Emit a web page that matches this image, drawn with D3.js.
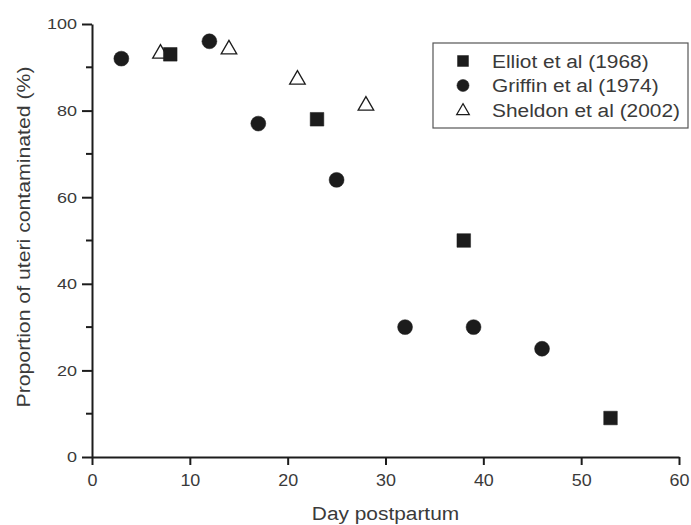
<!DOCTYPE html>
<html>
<head>
<meta charset="utf-8">
<script src="https://cdn.jsdelivr.net/npm/d3@7"></script>
<style>
  html, body { margin: 0; padding: 0; background: #fff; }
  svg { display: block; font-family: "Liberation Sans", Arial, sans-serif; }
</style>
</head>
<body>
<svg id="chart" width="691" height="525"></svg>
<script>
// Uterine contamination after calving, by study
const elliotDays = [8, 23, 38, 53];
const elliotPct  = [93, 78, 50, 9];
const griffinDays = [3, 12, 17, 25, 32, 39, 46];
const griffinPct  = [92, 96, 77, 64, 30, 30, 25];
const sheldonDays = [7, 14, 21, 28];
const sheldonPct  = [93.5, 94.5, 87.5, 81.5];

const xTicks = [0, 10, 20, 30, 40, 50, 60];
const yTicks = [0, 20, 40, 60, 80, 100];
const yMinorTicks = [10, 30, 50, 70, 90];
const seriesNames = ["Elliot et al (1968)", "Griffin et al (1974)", "Sheldon et al (2002)"];

const svg = d3.select("#chart");
const ink = "#1c1c1c";
const textCol = "#3a3a3a";
const stretch = 1.16; // slightly widened lettering

const x = d3.scaleLinear().domain([0, 60]).range([92, 679]);
const y = d3.scaleLinear().domain([0, 100]).range([457, 24]);

// Axes
const xAxis = d3.axisBottom(x).tickValues(xTicks).tickSize(8).tickSizeOuter(0).tickPadding(7);
const yAxis = d3.axisLeft(y).tickValues(yTicks).tickSize(10).tickSizeOuter(0).tickPadding(5);

const gx = svg.append("g").attr("transform", `translate(0,${y(0)})`).call(xAxis);
const gy = svg.append("g").attr("transform", `translate(${x(0)},0)`).call(yAxis);

[gx, gy].forEach(g => {
  g.select(".domain").attr("stroke", ink).attr("stroke-width", 2);
  g.selectAll(".tick line").attr("stroke", ink).attr("stroke-width", 2);
  g.selectAll(".tick text").attr("fill", textCol).style("font-size", "16px");
});
gx.selectAll(".tick text").attr("dy", "0.9em").attr("transform", `scale(${stretch - 0.04},1)`);
gy.selectAll(".tick text").style("font-size", "15.5px")
  .attr("x", 0).attr("transform", `translate(-15,0) scale(${stretch},1)`);

// Minor ticks on the y axis
svg.append("g").selectAll("line").data(yMinorTicks).join("line")
  .attr("x1", x(0) - 6).attr("x2", x(0))
  .attr("y1", d => y(d)).attr("y2", d => y(d))
  .attr("stroke", ink).attr("stroke-width", 2);

// Axis titles
svg.append("text")
  .attr("transform", `translate(${(x(0) + x(60)) / 2},520) scale(${stretch},1)`)
  .attr("text-anchor", "middle").attr("fill", textCol)
  .style("font-size", "18px").text("Day postpartum");

svg.append("text")
  .attr("transform", `translate(30,237) rotate(-90) scale(${stretch + 0.02},1)`)
  .attr("text-anchor", "middle").attr("fill", textCol)
  .style("font-size", "18px").text("Proportion of uteri contaminated (%)");

// Marker shapes
const sym = {
  square: d3.symbol().type(d3.symbolSquare),
  circle: d3.symbol().type(d3.symbolCircle),
  triangle: d3.symbol().type(d3.symbolTriangle)
};

function drawSeries(days, pct, shape, size, filled) {
  svg.append("g").selectAll("path").data(days.map((d, i) => [d, pct[i]])).join("path")
    .attr("transform", d => `translate(${x(d[0])},${y(d[1]) + (shape === "triangle" ? 1.5 : 0)})`)
    .attr("d", sym[shape].size(size)())
    .attr("fill", filled ? ink : "#fff")
    .attr("stroke", ink)
    .attr("stroke-width", filled ? 0.5 : 1.3);
}

drawSeries(sheldonDays, sheldonPct, "triangle", 105, false);
drawSeries(elliotDays, elliotPct, "square", 185, true);
drawSeries(griffinDays, griffinPct, "circle", 175, true);

// Legend
const lg = svg.append("g");
lg.append("rect").attr("x", 433).attr("y", 43).attr("width", 255).attr("height", 85)
  .attr("fill", "#fff").attr("stroke", "#555").attr("stroke-width", 1.2);

const legendShapes = [["square", 120, true], ["circle", 115, true], ["triangle", 70, false]];
seriesNames.forEach((name, i) => {
  const cy = 61 + i * 24.5;
  const [shape, size, filled] = legendShapes[i];
  lg.append("path")
    .attr("transform", `translate(463,${cy + (shape === "triangle" ? 1 : 0)})`)
    .attr("d", sym[shape].size(size)())
    .attr("fill", filled ? ink : "#fff")
    .attr("stroke", ink).attr("stroke-width", filled ? 0.5 : 1.2);
  lg.append("text")
    .attr("transform", `translate(492,${cy + 6.5}) scale(${stretch},1)`)
    .attr("fill", textCol).style("font-size", "18px").text(name);
});
</script>
</body>
</html>
